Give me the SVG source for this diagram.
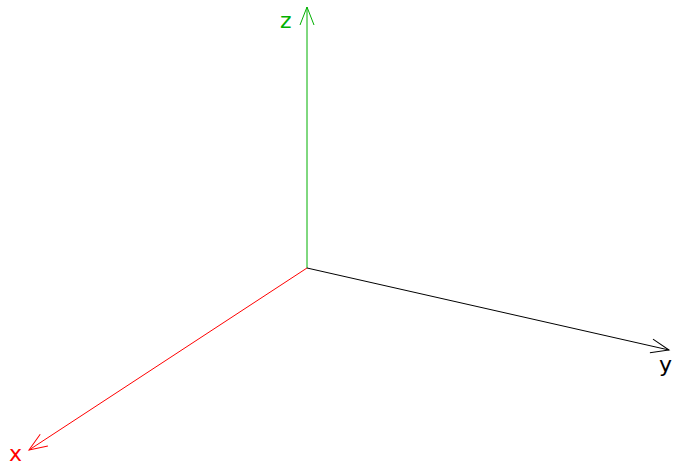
<svg xmlns="http://www.w3.org/2000/svg" width="673" height="466" viewBox="0 0 673 466">
<style>
.ax{fill:none;stroke-width:1}
.lbl{font-family:"DejaVu Sans",sans-serif;font-size:22px}
</style>
<defs>
<marker id="ahr" markerUnits="userSpaceOnUse" viewBox="0 0 18 14" markerWidth="18" markerHeight="14" refX="18" refY="7" orient="auto" overflow="visible">
<path d="M0,0 L18,7 L0,14" fill="none" stroke="#ff0000" stroke-width="1"/>
</marker>
<marker id="ahg" markerUnits="userSpaceOnUse" viewBox="0 0 18 14" markerWidth="18" markerHeight="14" refX="18" refY="7" orient="auto" overflow="visible">
<path d="M0,0 L18,7 L0,14" fill="none" stroke="#00b000" stroke-width="1"/>
</marker>
<marker id="ahk" markerUnits="userSpaceOnUse" viewBox="0 0 18 14" markerWidth="18" markerHeight="14" refX="18" refY="7" orient="auto" overflow="visible">
<path d="M0,0 L18,7 L0,14" fill="none" stroke="#000000" stroke-width="1"/>
</marker>
</defs>
<g id="connectors">
<line class="ax" x1="307" y1="268" x2="307" y2="7" stroke="#00b000" marker-end="url(#ahg)"/>
<line class="ax" x1="307" y1="268" x2="29" y2="450" stroke="#ff0000" marker-end="url(#ahr)"/>
<line class="ax" x1="307" y1="268" x2="669" y2="350" stroke="#000000" marker-end="url(#ahk)"/>
</g>
<g id="label-z"><text class="lbl" x="280" y="28" fill="#00b000">z</text></g>
<g id="label-x"><text class="lbl" x="9" y="461" fill="#ff0000">x</text></g>
<g id="label-y"><text class="lbl" x="659" y="372" fill="#000000">y</text></g>
</svg>
